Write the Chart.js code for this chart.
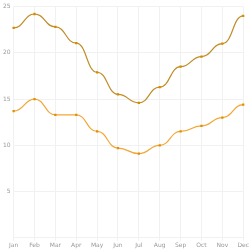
<!DOCTYPE html>
<html>
<head>
<meta charset="utf-8">
<script src="https://cdn.jsdelivr.net/npm/chart.js@4/dist/chart.umd.min.js"></script>
<style>
  html, body { margin: 0; padding: 0; background: #fff; }
  #box { width: 250px; height: 250px; }
</style>
</head>
<body>
<div id="box"><canvas id="chart"></canvas></div>
<script>
const months = ["Jan", "Feb", "Mar", "Apr", "May", "Jun", "Jul", "Aug", "Sep", "Oct", "Nov", "Dec"];
const highTemps = [22.7, 24.2, 22.8, 21.05, 17.9, 15.5, 14.6, 16.3, 18.5, 19.6, 21.0, 24.0];
const lowTemps = [13.7, 15.0, 13.3, 13.3, 11.5, 9.7, 9.1, 10.0, 11.5, 12.1, 13.0, 14.4];

// flat tangents at every point (bump-style curve)
const bumpCurve = {
  id: "bumpCurve",
  beforeDatasetsDraw(chart) {
    chart.getSortedVisibleDatasetMetas().forEach(meta => {
      const line = meta.dataset;
      if (!line) return;
      line.updateControlPoints(chart.chartArea);
      const pts = meta.data;
      pts.forEach((p, i) => {
        const prev = pts[i - 1];
        const next = pts[i + 1];
        const dl = prev ? (p.x - prev.x) / 2 : 0;
        const dr = next ? (next.x - p.x) / 2 : 0;
        p.cp1x = p.x - dl; p.cp1y = p.y;
        p.cp2x = p.x + dr; p.cp2y = p.y;
      });
      line._pointsUpdated = true;
      line._path = undefined;
    });
  }
};

const gridColor = "#f1f1f1";

new Chart(document.getElementById("chart"), {
  type: "line",
  data: {
    labels: months,
    datasets: [
      {
        data: highTemps,
        borderColor: "#c08d28",
        borderWidth: 1.2,
        pointStyle: "rect",
        pointRadius: 1.6,
        pointBackgroundColor: "#d98b00",
        pointBorderWidth: 0,
        tension: 0.4,
      },
      {
        data: lowTemps,
        borderColor: "#f2a838",
        borderWidth: 1.2,
        pointStyle: "rect",
        pointRadius: 1.6,
        pointBackgroundColor: "#e28f00",
        pointBorderWidth: 0,
        tension: 0.4,
      },
    ],
  },
  options: {
    responsive: true,
    maintainAspectRatio: false,
    animation: false,
    events: [],
    layout: { padding: { top: 0, right: 2, left: 0, bottom: 0 } },
    plugins: {
      legend: { display: false },
      tooltip: { enabled: false },
    },
    scales: {
      x: {
        grid: { color: gridColor, tickLength: 3 },
        border: { display: false },
        ticks: { color: "#999", font: { size: 6, family: "DejaVu Sans" }, padding: 1, maxRotation: 0 },
      },
      y: {
        min: 0,
        max: 25,
        grid: { color: gridColor, drawTicks: false },
        border: { display: false },
        ticks: {
          stepSize: 5,
          color: "#999",
          font: { size: 6, family: "DejaVu Sans" },
          padding: 3,
          callback: v => (v === 0 ? "" : v),
        },
      },
    },
  },
  plugins: [bumpCurve],
});
</script>
</body>
</html>
